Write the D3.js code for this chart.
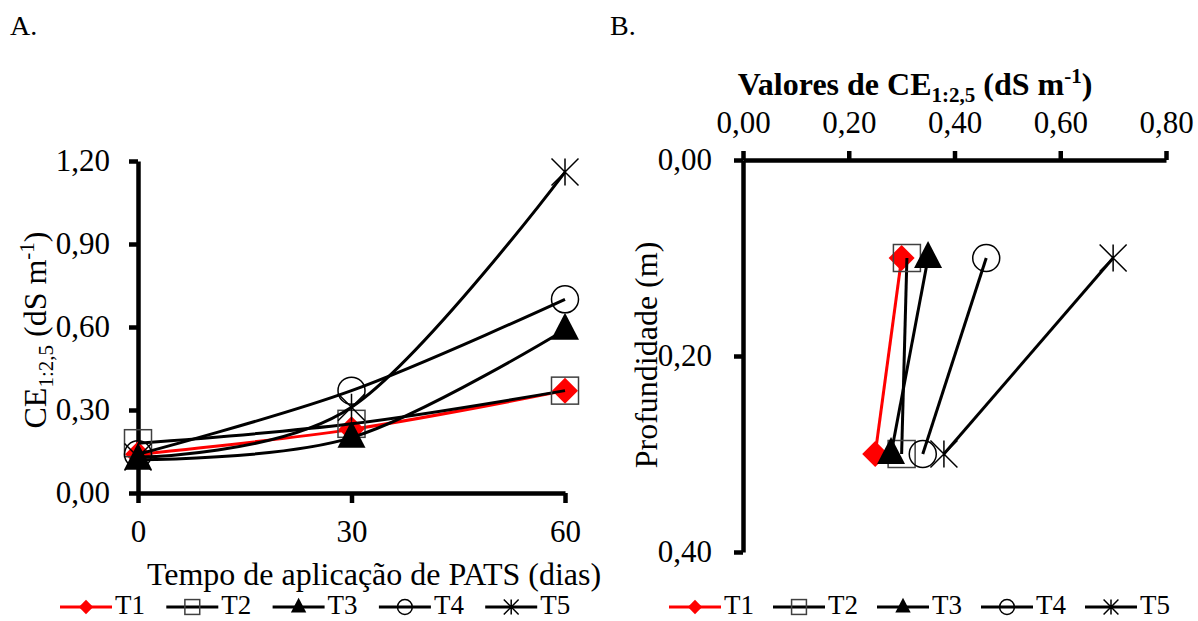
<!DOCTYPE html>
<html>
<head>
<meta charset="utf-8">
<script src="https://cdn.jsdelivr.net/npm/d3@7"></script>
<style>
  body { margin: 0; background: #fff; }
  svg text { font-family: "Liberation Serif", "Times New Roman", serif; fill: #000; }
</style>
</head>
<body>
<div id="container"></div>
<script>
// data
var series = ["T1", "T2", "T3", "T4", "T5"];
var days = [0, 30, 60];
var ceA = {
  T1: [0.14, 0.23, 0.37],
  T2: [0.18, 0.25, 0.37],
  T3: [0.12, 0.20, 0.59],
  T4: [0.14, 0.37, 0.70],
  T5: [0.13, 0.31, 1.16]
};
var depths = [0.10, 0.30];
var ceB = {
  T1: [0.30, 0.25],
  T2: [0.31, 0.30],
  T3: [0.35, 0.28],
  T4: [0.46, 0.34],
  T5: [0.70, 0.38]
};
var ticksA_y = [0, 0.3, 0.6, 0.9, 1.2];
var ticksA_x = [0, 30, 60];
var ticksB_x = [0, 0.2, 0.4, 0.6, 0.8];
var ticksB_y = [0, 0.2, 0.4];

var W = 1198, H = 621;
var FS = 31;      // tick labels
var FT = 32;      // axis titles
var FL = 27;      // legend
var lineColor = {T1: "#ff0000", T2: "#000", T3: "#000", T4: "#000", T5: "#000"};
var fmt = function(d){ return d3.format(".2f")(d).replace(".", ","); };

var svg = d3.select("#container").append("svg").attr("width", W).attr("height", H);

// draw one marker of a series at (0,0) inside g, s = scale (1 on chart, ~0.55 in legend)
function marker(g, name, s){
  if(name === "T1"){
    var r = 13*s;
    g.append("path").attr("d", "M0," + (-r) + "L" + r + ",0L0," + r + "L" + (-r) + ",0Z")
      .attr("fill", "#ff0000");
  } else if(name === "T2"){
    var h = 13.5*s;
    g.append("rect").attr("x", -h).attr("y", -h).attr("width", 2*h).attr("height", 2*h)
      .attr("fill", "none").attr("stroke", "#404040").attr("stroke-width", 1.5);
  } else if(name === "T3"){
    g.append("path").attr("d", "M0," + (-17*s) + "L" + (14*s) + "," + (10*s) + "L" + (-14*s) + "," + (10*s) + "Z")
      .attr("fill", "#000");
  } else if(name === "T4"){
    g.append("circle").attr("r", 13.5*s).attr("fill", "none").attr("stroke", "#000").attr("stroke-width", 1.5);
  } else {
    var k = 13.5*s;
    g.append("path").attr("d", "M" + (-k) + "," + (-k) + "L" + k + "," + k + "M" + (-k) + "," + k + "L" + k + "," + (-k) + "M0," + (-k) + "L0," + k)
      .attr("fill", "none").attr("stroke", "#000").attr("stroke-width", 1.5);
  }
}

function styleAxis(g){
  g.selectAll("path.domain").attr("stroke", "#000").attr("stroke-width", 4.5);
  g.selectAll(".tick line").attr("stroke", "#000").attr("stroke-width", 4.5);
  g.selectAll(".tick text").attr("font-size", FS).attr("font-family", "Liberation Serif");
}

function legend(x0, step, y){
  var lg = svg.append("g");
  series.forEach(function(name, i){
    var gx = x0 + i*step;
    lg.append("line").attr("x1", gx).attr("x2", gx + 52).attr("y1", y).attr("y2", y)
      .attr("stroke", lineColor[name]).attr("stroke-width", 3);
    marker(lg.append("g").attr("transform", "translate(" + (gx + 26) + "," + y + ")"), name, 0.55);
    lg.append("text").attr("x", gx + 55).attr("y", y + 7).attr("font-size", FL).text(name);
  });
}

// CE1:2,5 (dS m-1) with sub and superscript
function ceTitle(t, lead){
  t.append("tspan").text(lead + "CE");
  t.append("tspan").attr("font-size", 21).attr("dy", 7).text("1:2,5");
  t.append("tspan").attr("dy", -7).text(" (dS m");
  t.append("tspan").attr("font-size", 21).attr("dy", -12).text("-1");
  t.append("tspan").attr("dy", 12).text(")");
}

// ---------- panel A ----------
var xA = d3.scaleLinear().domain([0, 60]).range([138, 565]);
var yA = d3.scaleLinear().domain([0, 1.2]).range([493, 161]);

svg.append("g").attr("transform", "translate(0,493)")
  .call(d3.axisBottom(xA).tickValues(ticksA_x).tickSize(10).tickSizeOuter(0).tickPadding(17).tickFormat(d3.format("d")))
  .call(styleAxis);
svg.append("g").attr("transform", "translate(138,0)")
  .call(d3.axisLeft(yA).tickValues(ticksA_y).tickSize(9).tickSizeOuter(0).tickPadding(19).tickFormat(fmt))
  .call(styleAxis);

var lineA = d3.line().x(function(d, i){ return xA(days[i]); }).y(function(d){ return yA(d); })
  .curve(d3.curveCardinal.tension(0));

series.forEach(function(name){
  var g = svg.append("g");
  g.append("path").attr("d", lineA(ceA[name])).attr("fill", "none")
    .attr("stroke", lineColor[name]).attr("stroke-width", 3);
  ceA[name].forEach(function(v, i){
    marker(g.append("g").attr("transform", "translate(" + xA(days[i]) + "," + yA(v) + ")"), name, 1);
  });
});

svg.append("text").attr("x", 10).attr("y", 35).attr("font-size", 28).text("A.");
svg.append("text").attr("x", 374).attr("y", 585).attr("text-anchor", "middle").attr("font-size", FT)
  .text("Tempo de aplicação de PATS (dias)");

var tA = svg.append("text").attr("transform", "translate(46,330) rotate(-90)")
  .attr("text-anchor", "middle").attr("font-size", FT);
ceTitle(tA, "");

legend(60, 106.3, 607);

// ---------- panel B ----------
var xB = d3.scaleLinear().domain([0, 0.8]).range([743, 1166]);
var yB = d3.scaleLinear().domain([0, 0.4]).range([160, 552]);

svg.append("g").attr("transform", "translate(0,160)")
  .call(d3.axisTop(xB).tickValues(ticksB_x).tickSize(9).tickSizeOuter(0).tickPadding(18).tickFormat(fmt))
  .call(styleAxis);
svg.append("g").attr("transform", "translate(743,0)")
  .call(d3.axisLeft(yB).tickValues(ticksB_y).tickSize(9).tickSizeOuter(0).tickPadding(22).tickFormat(fmt))
  .call(styleAxis);

var lineB = d3.line().x(function(d){ return xB(d); }).y(function(d, i){ return yB(depths[i]); });

series.forEach(function(name){
  var g = svg.append("g");
  g.append("path").attr("d", lineB(ceB[name])).attr("fill", "none")
    .attr("stroke", lineColor[name]).attr("stroke-width", 3);
  ceB[name].forEach(function(v, i){
    marker(g.append("g").attr("transform", "translate(" + xB(v) + "," + yB(depths[i]) + ")"), name, 1);
  });
});

svg.append("text").attr("x", 610).attr("y", 35).attr("font-size", 28).text("B.");

var tB = svg.append("text").attr("x", 915).attr("y", 95).attr("text-anchor", "middle")
  .attr("font-size", FT).attr("font-weight", "bold");
ceTitle(tB, "Valores de ");

svg.append("text").attr("transform", "translate(657,355) rotate(-90)")
  .attr("text-anchor", "middle").attr("font-size", FT).text("Profundidade (m)");

legend(669, 104, 607);
</script>
</body>
</html>
